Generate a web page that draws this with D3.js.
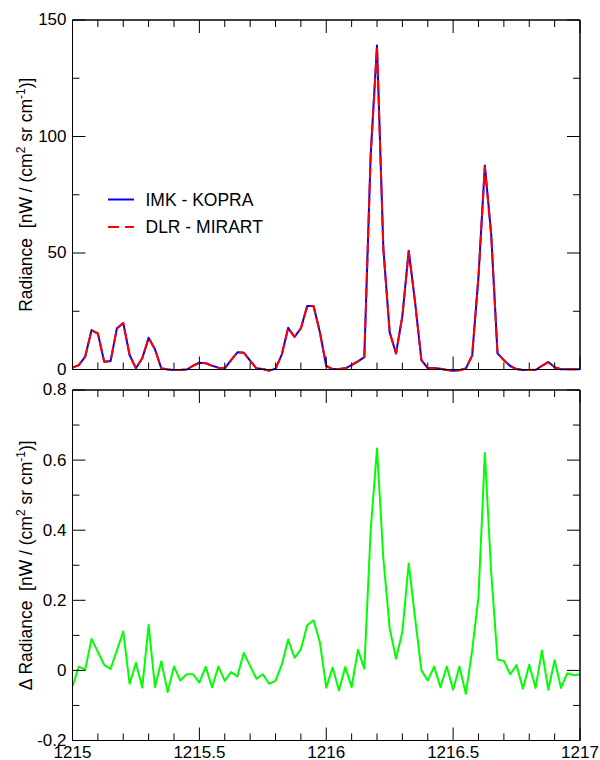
<!DOCTYPE html>
<html>
<head>
<meta charset="utf-8">
<script src="https://cdn.jsdelivr.net/npm/d3@7"></script>
<style>
  html, body { margin: 0; padding: 0; background: #fff; }
  svg { display: block; }
  text { font-family: "Liberation Sans", Arial, Helvetica, sans-serif; fill: #000; }
</style>
</head>
<body>
<svg id="chart" width="600" height="760"></svg>
<script>
// Spectral grid (cm^-1)
const wavenumber = [
  1215.000, 1215.025, 1215.050, 1215.075, 1215.100, 1215.125, 1215.150, 1215.175, 1215.200, 1215.225,
  1215.250, 1215.275, 1215.300, 1215.325, 1215.350, 1215.375, 1215.400, 1215.425, 1215.450, 1215.475,
  1215.500, 1215.525, 1215.550, 1215.575, 1215.600, 1215.625, 1215.650, 1215.675, 1215.700, 1215.725,
  1215.750, 1215.775, 1215.800, 1215.825, 1215.850, 1215.875, 1215.900, 1215.925, 1215.950, 1215.975,
  1216.000, 1216.025, 1216.050, 1216.075, 1216.100, 1216.125, 1216.150, 1216.175, 1216.200, 1216.225,
  1216.250, 1216.275, 1216.300, 1216.325, 1216.350, 1216.375, 1216.400, 1216.425, 1216.450, 1216.475,
  1216.500, 1216.525, 1216.550, 1216.575, 1216.600, 1216.625, 1216.650, 1216.675, 1216.700, 1216.725,
  1216.750, 1216.775, 1216.800, 1216.825, 1216.850, 1216.875, 1216.900, 1216.925, 1216.950, 1216.975,
  1217.000
];

// Radiance, nW / (cm^2 sr cm^-1)
const kopra = [
  0.80, 1.90, 5.50, 16.90, 15.50, 3.30, 3.60, 17.70, 20.00, 6.20,
  0.50, 4.80, 13.60, 8.70, 0.50, 0.00, -0.20, -0.20, 0.00, 1.60,
  2.90, 2.70, 1.60, 0.80, 0.50, 4.00, 7.40, 7.20, 3.80, 0.50,
  0.20, -0.50, 0.30, 6.50, 17.90, 14.00, 17.70, 27.30, 27.30, 16.00,
  1.50, 0.20, 0.20, 0.50, 1.90, 3.50, 5.30, 92.00, 139.10, 52.00,
  16.00, 6.90, 23.00, 51.00, 29.00, 4.00, 0.60, 0.60, 0.30, -0.20,
  -0.50, -0.30, 0.40, 6.00, 40.00, 87.60, 58.00, 6.90, 4.00, 1.50,
  0.20, -0.20, -0.20, -0.20, 1.60, 3.20, 1.00, 0.10, 0.10, 0.10,
  0.10
];

const mirart = [
  0.85, 1.89, 5.50, 16.81, 15.45, 3.28, 3.60, 17.64, 19.89, 6.24,
  0.48, 4.85, 13.47, 8.75, 0.47, 0.06, -0.21, -0.17, 0.01, 1.61,
  2.94, 2.69, 1.65, 0.79, 0.53, 4.01, 7.42, 7.15, 3.79, 0.52,
  0.21, -0.46, 0.33, 6.48, 17.81, 13.96, 17.64, 27.17, 27.16, 15.92,
  1.55, 0.19, 0.26, 0.49, 1.95, 3.44, 5.30, 91.60, 138.47, 51.68,
  15.88, 6.87, 22.89, 50.70, 28.85, 4.00, 0.63, 0.59, 0.35, -0.21,
  -0.45, -0.31, 0.47, 5.94, 39.79, 86.98, 57.72, 6.87, 3.97, 1.51,
  0.19, -0.15, -0.22, -0.15, 1.54, 3.26, 0.97, 0.15, 0.11, 0.11,
  0.11
];

// KOPRA minus MIRART
const deltaRadiance = [
  -0.046, 0.011, 0.002, 0.090, 0.053, 0.016, 0.004, 0.057, 0.111, -0.038,
  0.021, -0.049, 0.130, -0.048, 0.026, -0.062, 0.011, -0.029, -0.011, -0.011,
  -0.035, 0.010, -0.048, 0.011, -0.030, -0.005, -0.017, 0.050, 0.013, -0.024,
  -0.011, -0.038, -0.030, 0.017, 0.088, 0.036, 0.060, 0.129, 0.143, 0.080,
  -0.049, 0.008, -0.057, 0.010, -0.048, 0.059, 0.005, 0.400, 0.633, 0.320,
  0.120, 0.033, 0.110, 0.305, 0.150, 0.000, -0.029, 0.011, -0.048, 0.011,
  -0.055, 0.011, -0.067, 0.057, 0.210, 0.620, 0.280, 0.031, 0.027, -0.011,
  0.015, -0.052, 0.016, -0.050, 0.057, -0.055, 0.029, -0.050, -0.008, -0.014,
  -0.012
];

const seriesNames = ["IMK - KOPRA", "DLR - MIRART"];
const xTickLabels = [1215, 1215.5, 1216, 1216.5, 1217];
const radianceTickLabels = [0, 50, 100, 150];
const deltaTickLabels = [-0.2, 0, 0.2, 0.4, 0.6, 0.8];

// ---- layout ----
const svg = d3.select("#chart");
const left = 72.5, right = 580;
const panels = [
  { top: 20,  bottom: 369.5 },
  { top: 390, bottom: 740.5 }
];
const FONT = 17;
const MAJOR = 13, MINOR = 7;

const x = d3.scaleLinear().domain([1215, 1217]).range([left, right]);
const yRad = d3.scaleLinear().domain([0, 150]).range([panels[0].bottom, panels[0].top]);
const yDel = d3.scaleLinear().domain([-0.2, 0.8]).range([panels[1].bottom, panels[1].top]);

const xMinor = d3.range(0, 21).map(i => +(1215 + i * 0.1).toFixed(1)).filter(v => !xTickLabels.includes(v));
const radMinor = [25, 75, 125];
const delMinor = [-0.1, 0.1, 0.3, 0.5, 0.7];

const fmt = d => String(+(+d).toFixed(2));

function styleAxis(g) {
  g.selectAll("path.domain").attr("stroke", "#000").attr("stroke-width", 1);
  g.selectAll(".tick line").attr("stroke", "#000").attr("stroke-width", 1);
  g.selectAll(".tick text").attr("font-size", FONT)
    .attr("font-family", "'Liberation Sans', Arial, Helvetica, sans-serif").attr("fill", "#000");
}

function drawFrame(p, y, majorY, minorY, showXLabels) {
  const g = svg.append("g");
  const addAxis = (axis, tx, ty) => {
    const a = g.append("g").attr("transform", `translate(${tx},${ty})`).call(axis.offset(0));
    styleAxis(a);
    return a;
  };
  // minor ticks on all four sides
  addAxis(d3.axisBottom(x).tickValues(xMinor).tickSizeInner(-MINOR).tickSizeOuter(0).tickFormat(""), 0, p.bottom);
  addAxis(d3.axisTop(x).tickValues(xMinor).tickSizeInner(-MINOR).tickSizeOuter(0).tickFormat(""), 0, p.top);
  addAxis(d3.axisLeft(y).tickValues(minorY).tickSizeInner(-MINOR).tickSizeOuter(0).tickFormat(""), left, 0);
  addAxis(d3.axisRight(y).tickValues(minorY).tickSizeInner(-MINOR).tickSizeOuter(0).tickFormat(""), right, 0);
  // major ticks
  addAxis(d3.axisBottom(x).tickValues(xTickLabels).tickSizeInner(-MAJOR).tickSizeOuter(0)
    .tickPadding(5).tickFormat(showXLabels ? fmt : ""), 0, p.bottom);
  addAxis(d3.axisTop(x).tickValues(xTickLabels).tickSizeInner(-MAJOR).tickSizeOuter(0).tickFormat(""), 0, p.top);
  addAxis(d3.axisLeft(y).tickValues(majorY).tickSizeInner(-MAJOR).tickSizeOuter(0)
    .tickPadding(6).tickFormat(fmt), left, 0);
  addAxis(d3.axisRight(y).tickValues(majorY).tickSizeInner(-MAJOR).tickSizeOuter(0).tickFormat(""), right, 0);
}

svg.append("clipPath").attr("id", "clip-bottom")
  .append("rect").attr("x", left).attr("y", panels[1].top)
  .attr("width", right - left).attr("height", panels[1].bottom - panels[1].top);

function lineFor(y) {
  return d3.line().x((d, i) => x(wavenumber[i])).y(d => y(d));
}

// ---- top panel: radiance spectra ----
const topPlot = svg.append("g");
topPlot.append("path").datum(kopra)
  .attr("d", lineFor(yRad)).attr("fill", "none")
  .attr("stroke", "#0000ff").attr("stroke-width", 2).attr("stroke-linejoin", "round");
topPlot.append("path").datum(mirart)
  .attr("d", lineFor(yRad)).attr("fill", "none")
  .attr("stroke", "#ff0000").attr("stroke-width", 2).attr("stroke-linejoin", "round")
  .attr("stroke-dasharray", "11,4");

drawFrame(panels[0], yRad, radianceTickLabels, radMinor, false);

// legend
const legend = svg.append("g");
const legendRows = [
  { name: seriesNames[0], color: "#0000ff", dash: null, y: 199.5 },
  { name: seriesNames[1], color: "#ff0000", dash: "11,6", y: 227 }
];
legendRows.forEach(r => {
  legend.append("line").attr("x1", 108).attr("x2", 134).attr("y1", r.y).attr("y2", r.y)
    .attr("stroke", r.color).attr("stroke-width", 2).attr("stroke-dasharray", r.dash);
  legend.append("text").attr("x", 145.5).attr("y", r.y + 6)
    .attr("font-size", 17.5).text(r.name);
});

// ---- bottom panel: difference ----
const botPlot = svg.append("g").attr("clip-path", "url(#clip-bottom)");
botPlot.append("path").datum(deltaRadiance)
  .attr("d", lineFor(yDel)).attr("fill", "none")
  .attr("stroke", "#00ff00").attr("stroke-width", 2).attr("stroke-linejoin", "round");

drawFrame(panels[1], yDel, deltaTickLabels, delMinor, true);

// ---- axis titles ----
function yTitle(prefix, cy) {
  const t = svg.append("text")
    .attr("transform", `translate(31.5,${cy}) rotate(-90)`)
    .attr("text-anchor", "middle")
    .attr("font-size", 17.5)
    .style("white-space", "pre");
  t.append("tspan").text(prefix + "\u00a0 [nW / (cm");
  t.append("tspan").attr("font-size", 12).attr("dy", -7).text("2");
  t.append("tspan").attr("dy", 7).text(" sr cm");
  t.append("tspan").attr("font-size", 12).attr("dy", -7).text("-1");
  t.append("tspan").attr("dy", 7).text(")]");
}
yTitle("Radiance", (panels[0].top + panels[0].bottom) / 2);
yTitle("\u0394 Radiance", (panels[1].top + panels[1].bottom) / 2);
</script>
</body>
</html>
